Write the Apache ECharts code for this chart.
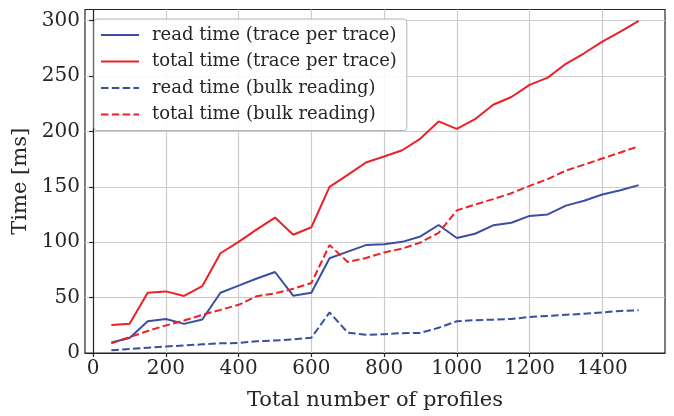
<!DOCTYPE html>
<html>
<head>
<meta charset="utf-8">
<script src="https://cdn.jsdelivr.net/npm/echarts@6/dist/echarts.min.js"></script>
<style>
  html, body { margin: 0; padding: 0; background: #ffffff; }
  #chart { width: 674px; height: 416px; }
</style>
</head>
<body>
<div id="chart"></div>
<script>
// Number of profiles read (x values)
const profiles = [50, 100, 150, 200, 250, 300, 350, 400, 450, 500,
  550, 600, 650, 700, 750, 800, 850, 900, 950, 1000,
  1050, 1100, 1150, 1200, 1250, 1300, 1350, 1400, 1450, 1500];

// Timings in milliseconds
const readTraceByTrace = [9.4, 13.5, 28.7, 30.7, 26.3, 30.2, 54.4, 60.8, 67.2, 73.1,
  51.7, 54.4, 85.5, 91.5, 97.4, 98.2, 100.3, 105.2, 115.5, 103.8,
  107.6, 115.2, 117.5, 123.7, 125.1, 133.0, 137.4, 143.0, 146.8, 151.5];
const totalTraceByTrace = [25.2, 26.3, 54.4, 55.6, 51.5, 60.3, 90.0, 100.3, 111.5, 122.2,
  106.7, 113.5, 150.0, 160.8, 171.9, 177.3, 183.0, 193.5, 209.0, 202.3,
  211.0, 224.0, 231.0, 242.0, 248.5, 261.0, 270.5, 281.0, 290.0, 299.7];
const readBulk = [2.4, 3.7, 4.8, 5.9, 6.8, 7.8, 8.7, 9.1, 10.5, 11.3,
  12.2, 13.8, 36.6, 18.4, 16.4, 17.0, 17.9, 18.1, 22.8, 28.7,
  29.6, 30.1, 30.7, 32.5, 33.5, 34.5, 35.4, 36.6, 38.0, 38.6];
const totalBulk = [8.8, 14.3, 19.9, 24.9, 29.3, 34.5, 38.9, 43.5, 51.3, 53.8,
  57.9, 63.2, 97.4, 82.2, 85.7, 90.7, 94.2, 99.7, 108.5, 128.7,
  133.9, 138.9, 144.2, 150.8, 157.0, 164.6, 170.0, 175.5, 181.0, 186.5];

// Tick positions
const xTicks = [0, 200, 400, 600, 800, 1000, 1200, 1400];
const yTicks = [0, 50, 100, 150, 200, 250, 300];

const seriesNames = [
  'read time (trace per trace)',
  'total time (trace per trace)',
  'read time (bulk reading)',
  'total time (bulk reading)'
];

const BLUE = '#3a4fa3';
const RED = '#ee2027';
const TEXT = '#262626';
const FONT = '"DejaVu Serif", "Liberation Serif", serif';

function pairs(ys) {
  return profiles.map((x, i) => [x, ys[i]]);
}

function lineSeries(name, ys, color, dashed) {
  return {
    name: name,
    type: 'line',
    data: pairs(ys),
    symbol: 'none',
    showSymbol: false,
    silent: true,
    animation: false,
    lineStyle: {
      color: color,
      width: 2,
      type: dashed ? [7.5, 3.3] : 'solid'
    },
    itemStyle: { color: color }
  };
}

const chart = echarts.init(document.getElementById('chart'), null, { renderer: 'canvas' });

chart.setOption({
  backgroundColor: '#ffffff',
  animation: false,
  textStyle: { fontFamily: FONT, color: TEXT },
  grid: {
    left: 85,
    right: 9,
    top: 9.5,
    bottom: 53.3,
    show: true,
    borderColor: TEXT,
    borderWidth: 1.2,
    backgroundColor: 'transparent'
  },
  legend: {
    show: true,
    orient: 'vertical',
    left: 94,
    top: 19,
    padding: [7, 10, 7, 6],
    itemWidth: 38,
    itemHeight: 14,
    itemGap: 8.5,
    backgroundColor: 'rgba(255,255,255,0.85)',
    borderColor: '#b5b5b5',
    borderWidth: 1,
    borderRadius: 3,
    itemStyle: { opacity: 0 },
    textStyle: { fontFamily: FONT, fontSize: 18, color: TEXT, padding: [0, 0, 0, 8] },
    data: seriesNames.map(n => ({ name: n }))
  },
  xAxis: {
    type: 'value',
    min: -22.5,
    max: 1572.5,
    name: 'Total number of profiles',
    nameLocation: 'middle',
    nameGap: 37,
    nameTextStyle: { fontFamily: FONT, fontSize: 21, color: TEXT },
    axisLine: { show: true, onZero: false, lineStyle: { color: TEXT, width: 1.2 } },
    axisTick: { show: true, length: 4, customValues: xTicks, lineStyle: { color: TEXT, width: 1.2 } },
    axisLabel: {
      customValues: xTicks, margin: 6, fontFamily: FONT, fontSize: 20, color: TEXT,
      formatter: v => String(v)
    },
    splitLine: { show: true, lineStyle: { color: '#cccccc', width: 1.2 } }
  },
  yAxis: {
    type: 'value',
    min: 0,
    max: 310,
    name: 'Time [ms]',
    nameLocation: 'middle',
    nameGap: 46,
    nameRotate: 90,
    nameTextStyle: { fontFamily: FONT, fontSize: 21, color: TEXT },
    axisLine: { show: true, lineStyle: { color: TEXT, width: 1.2 } },
    axisTick: { show: true, length: 4, customValues: yTicks, lineStyle: { color: TEXT, width: 1.2 } },
    axisLabel: {
      customValues: yTicks, margin: 5, fontFamily: FONT, fontSize: 20, color: TEXT,
      formatter: v => String(v)
    },
    splitLine: { show: true, lineStyle: { color: '#cccccc', width: 1.2 } }
  },
  series: [
    lineSeries(seriesNames[0], readTraceByTrace, BLUE, false),
    lineSeries(seriesNames[1], totalTraceByTrace, RED, false),
    lineSeries(seriesNames[2], readBulk, BLUE, true),
    lineSeries(seriesNames[3], totalBulk, RED, true)
  ]
});
</script>
</body>
</html>
